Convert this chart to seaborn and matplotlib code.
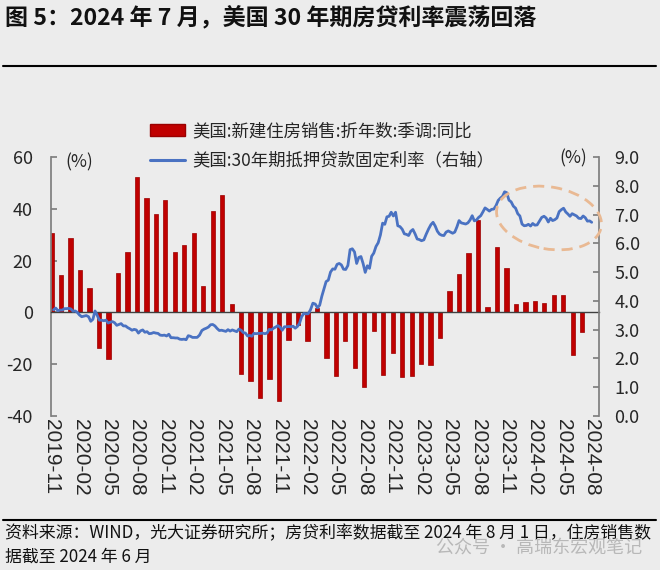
import matplotlib
matplotlib.use("Agg")
import matplotlib.pyplot as plt
import matplotlib.patches as mpatches
from matplotlib.lines import Line2D
from matplotlib.transforms import IdentityTransform
import numpy as np
import pandas as pd
import seaborn as sns

# ---- data ----
# new home sales yoy (%), one bar per month, plotted at month end
sales_months = pd.period_range("2019-10", "2024-06", freq="M").strftime("%Y-%m").tolist()
sales_yoy = [30.6, 14.6, 28.6, 16.4, 9.5, -13.9, -17.9, 15.1, 23.5, 52.4,
             44.1, 38.1, 43.5, 23.5, 26.1, 30.5, 10.1, 39.2, 45.2, 3.1,
             -23.6, -26.6, -32.9, -25.7, -34.2, -10.7, -5.0, -11.2, 1.5, -17.5,
             -24.5, -11.1, -21.4, -29.0, -7.2, -24.3, -15.7, -24.8, -24.5, -20.1,
             -20.4, -9.9, 8.4, 14.8, 23.1, 35.5, 1.9, 25.4, 17.2, 3.1,
             3.9, 4.4, 3.5, 6.6, 6.8, -16.5, -7.7]

# 30y fixed mortgage rate (%), weekly
rate_2019 = [3.69, 3.75, 3.66, 3.68, 3.68, 3.73, 3.73, 3.74]
rate_2020 = [3.72, 3.64, 3.65, 3.60, 3.51, 3.45, 3.47, 3.49, 3.45, 3.29, 3.36, 3.65, 3.50,
             3.33, 3.33, 3.31, 3.33, 3.23, 3.26, 3.28, 3.24, 3.15, 3.18, 3.21, 3.13, 3.13,
             3.07, 3.03, 2.98, 3.01, 2.99, 2.88, 2.96, 2.99, 2.91, 2.93, 2.86, 2.87, 2.90,
             2.88, 2.87, 2.81, 2.80, 2.81, 2.78, 2.84, 2.72, 2.72, 2.71, 2.71, 2.67, 2.66, 2.67]
rate_2021 = [2.65, 2.79, 2.77, 2.73, 2.73, 2.73, 2.81, 2.97, 3.02, 3.05, 3.09, 3.17,
             3.18, 3.13, 3.04, 2.97, 2.98, 2.96, 2.94, 3.00, 2.95, 2.99, 2.96, 2.93, 3.02,
             2.98, 2.90, 2.88, 2.78, 2.80, 2.77, 2.87, 2.86, 2.87, 2.87, 2.88, 2.86, 2.88, 3.01,
             2.99, 3.05, 3.09, 3.14, 3.09, 2.98, 3.10, 3.10, 3.11, 3.10, 3.12, 3.05, 3.11]
rate_2022 = [3.22, 3.45, 3.56, 3.55, 3.55, 3.69, 3.92, 3.89, 3.76, 3.85, 4.16, 4.42, 4.67,
             4.72, 5.00, 5.11, 5.10, 5.27, 5.30, 5.25, 5.10, 5.09, 5.23, 5.78, 5.81, 5.70,
             5.30, 5.51, 5.54, 5.30, 4.99, 5.22, 5.13, 5.55, 5.66, 5.89, 6.02, 6.29, 6.70,
             6.66, 6.92, 6.94, 7.08, 6.95, 7.08, 6.61, 6.58, 6.49, 6.33, 6.31, 6.27, 6.42]
rate_2023 = [6.48, 6.33, 6.15, 6.13, 6.09, 6.12, 6.32, 6.50, 6.65, 6.73, 6.60, 6.42, 6.32,
             6.28, 6.27, 6.39, 6.43, 6.39, 6.35, 6.39, 6.57, 6.79, 6.71, 6.69, 6.67, 6.71,
             6.81, 6.96, 6.78, 6.81, 6.90, 6.96, 7.09, 7.23, 7.18, 7.12, 7.18, 7.19, 7.31,
             7.49, 7.57, 7.63, 7.79, 7.76, 7.50, 7.44, 7.29, 7.22, 7.03, 6.95, 6.67, 6.61]
rate_2024 = [6.62, 6.66, 6.60, 6.69, 6.63, 6.64, 6.77, 6.90, 6.94, 6.88, 6.74, 6.87, 6.79,
             6.82, 6.88, 7.10, 7.17, 7.22, 7.09, 7.02, 6.94, 7.03, 6.99, 6.95, 6.87, 6.86,
             6.95, 6.89, 6.77, 6.78, 6.73]
rate_dates = pd.date_range("2019-11-07", "2024-08-01", freq="W-THU")
rate_vals = rate_2019 + rate_2020 + rate_2021 + rate_2022 + rate_2023 + rate_2024

tick_labels = pd.period_range("2019-11", "2024-08", freq="3M").strftime("%Y-%m").tolist()

# month index: 0 = 2019-11 (= end of 2019-10)
rate_pos = ((rate_dates.year - 2019) * 12 + rate_dates.month - 11
            + (rate_dates.day - 1) / rate_dates.days_in_month)
df_rate = pd.DataFrame({"pos": rate_pos, "rate": rate_vals})
df_sales = pd.DataFrame({"month": sales_months, "yoy": sales_yoy})

# ---- style ----
bg = "#ececec"
sns.set_theme(style="white")
plt.rcParams["font.family"] = ["Noto Sans CJK SC", "DejaVu Sans"]
plt.rcParams["axes.unicode_minus"] = False
txt = "#262626"

fig = plt.figure(figsize=(6.6, 5.7), dpi=100, facecolor=bg)
ax = fig.add_axes([0.0768, 0.2702, 0.8312, 0.4544])
ax.set_facecolor(bg)

sns.barplot(data=df_sales, x="month", y="yoy", color="#c00000", width=0.45,
            saturation=1, edgecolor="#9a0000", linewidth=0.5, ax=ax)

ax2 = ax.twinx()
sns.lineplot(data=df_rate, x="pos", y="rate", color="#4a72c2", linewidth=2.0, ax=ax2)

ax.set_ylim(-40, 60)
ax2.set_ylim(0, 9)
ax.set_xlim(-0.1, 57.8)
ax.set_xticks(np.arange(0, 58, 3))
ax.set_xticklabels(tick_labels)
ax.set_yticks(np.arange(-40, 61, 20))
ax.set_yticklabels([f"{v:d}" for v in range(-40, 61, 20)], fontsize=13, color=txt)
ax2.set_yticks(np.arange(0, 9.1, 1))
ax2.set_yticklabels([f"{v:.1f}" for v in np.arange(0, 9.1, 1)], fontsize=13, color=txt)
ax.set_xlabel("")
ax.set_ylabel("")
ax2.set_xlabel("")
ax2.set_ylabel("")

spine_c = "#7f7f7f"
for a in (ax, ax2):
    a.spines["top"].set_visible(False)
ax.spines["right"].set_visible(False)
ax2.spines["left"].set_visible(False)
ax2.spines["bottom"].set_visible(False)
ax.spines["left"].set_color(spine_c)
ax2.spines["right"].set_color(spine_c)
ax.spines["bottom"].set_position(("data", 0))
ax.spines["bottom"].set_color("#404040")
ax.spines["bottom"].set_linewidth(1.0)

ax.tick_params(axis="x", direction="in", length=4, color="#404040", pad=77,
               labelrotation=270, labelsize=15, labelcolor=txt,
               labelfontfamily="Liberation Sans")
ax.tick_params(axis="y", direction="in", length=4, color=spine_c, pad=13)
ax2.tick_params(axis="y", direction="in", length=4, color=spine_c, pad=11)

ax.text(0.026, 0.981, "(%)", transform=ax.transAxes, fontsize=12.5, color=txt,
        ha="left", va="center")
ax2.text(0.953, 0.996, "(%)", transform=ax2.transAxes, fontsize=12.5, color=txt,
         ha="center", va="center")

# legend
handles = [mpatches.Patch(facecolor="#c00000", edgecolor="#9a0000"),
           Line2D([], [], color="#4a72c2", linewidth=2.2)]
labels = ["美国:新建住房销售:折年数:季调:同比", "美国:30年期抵押贷款固定利率（右轴）"]
fig.legend(handles, labels, loc="upper left", bbox_to_anchor=(0.228, 0.786),
           frameon=False, fontsize=12.5, handlelength=2.0, handletextpad=0.4,
           labelspacing=0.68, borderpad=0, borderaxespad=0, labelcolor=txt)

# dashed ellipse around the recent range
ell = mpatches.Ellipse((549, 352), 106, 62, angle=-10, transform=IdentityTransform(),
                       fill=False, edgecolor="#e9b993", linewidth=2,
                       linestyle=(0, (4, 2.5)))
fig.add_artist(ell)

# title, rules and footnote
fig.text(0.008, 0.970, "图 5：2024 年 7 月，美国 30 年期房贷利率震荡回落",
         fontsize=16.6, fontweight="bold", color="#111111", ha="left", va="center")
fig.add_artist(Line2D([0.004, 0.994], [0.884, 0.884], transform=fig.transFigure,
                      color="black", linewidth=1.5))
fig.add_artist(Line2D([0.004, 0.994], [0.088, 0.088], transform=fig.transFigure,
                      color="black", linewidth=1.5))
fig.text(0.008, 0.065, "资料来源：WIND，光大证券研究所；房贷利率数据截至 2024 年 8 月 1 日，住房销售数",
         fontsize=12.2, color="#111111", ha="left", va="center")
fig.text(0.008, 0.023, "据截至 2024 年 6 月", fontsize=12.2, color="#111111",
         ha="left", va="center")
fig.text(0.66, 0.040, "公众号 · 高瑞东宏观笔记", fontsize=13, color="#b8b8b8",
         ha="left", va="center")

fig.savefig("out.png", dpi=100, facecolor=bg)
